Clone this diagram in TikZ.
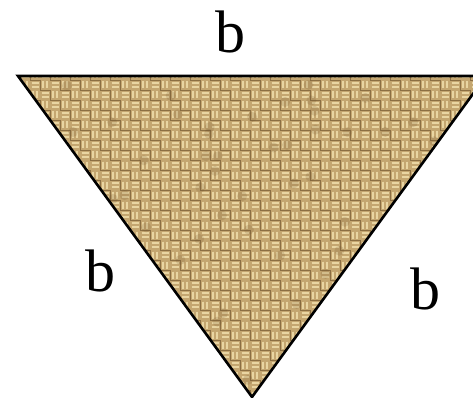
\documentclass[tikz,border=0pt]{standalone}
\usepackage{fontspec}
\setmainfont{Liberation Serif}
\definecolor{burlap}{HTML}{C4A670}
\definecolor{threadlight}{HTML}{E9D5A2}
\definecolor{threaddark}{HTML}{6E522C}
\tikzset{
  lbl/.style={font=\fontsize{60}{60}\selectfont, text=black, inner sep=0pt},
  edge/.style={draw=black, line width=2.6pt, line join=miter},
  threadA/.style={draw=threadlight, line width=2pt},
  threadB/.style={draw=threaddark, line width=1.1pt, opacity=0.65},
  blotch/.style={fill=threaddark, opacity=0.18}
}
\begin{document}
\begin{tikzpicture}[x=1pt,y=-1pt]
\pgfmathsetseed{7}
\path[use as bounding box, clip] (0,0) rectangle (473,398);
\fill[white] (0,0) rectangle (473,398);
\coordinate (tl) at (18,76);
\coordinate (tr) at (486,76);
\coordinate (bt) at (252,397);
\begin{scope}
  \clip (tl) -- (tr) -- (bt) -- cycle;
  \fill[burlap] (0,70) rectangle (490,400);
  \foreach \i in {0,...,49} {
    \foreach \j [evaluate=\j as \k using {int(mod(\i+\j,2))}] in {0,...,33} {
      \ifnum\k=0
        \draw[threadB] (10*\i,70+10*\j+0.6) -- ++(10,0);
        \draw[threadA] (10*\i+1.5,70+10*\j+3.3) -- ++(7,0);
        \draw[threadA] (10*\i+1.5,70+10*\j+7) -- ++(7,0);
      \else
        \draw[threadB] (10*\i+0.6,70+10*\j) -- ++(0,10);
        \draw[threadA] (10*\i+3.3,70+10*\j+1.5) -- ++(0,7);
        \draw[threadA] (10*\i+7,70+10*\j+1.5) -- ++(0,7);
      \fi
    }
  }
  \foreach \n in {1,...,90} {
    \pgfmathsetmacro{\bx}{20+450*rnd}
    \pgfmathsetmacro{\by}{80+310*rnd}
    \fill[blotch] (\bx,\by) circle[radius=5];
  }
\end{scope}
\draw[edge] (tl) -- (tr) -- (bt) -- cycle;
\node[lbl] (btop) at (230,32) {b};
\node[lbl] (bleft) at (100,271) {b};
\node[lbl] (bright) at (425,289) {b};
\end{tikzpicture}
\end{document}
